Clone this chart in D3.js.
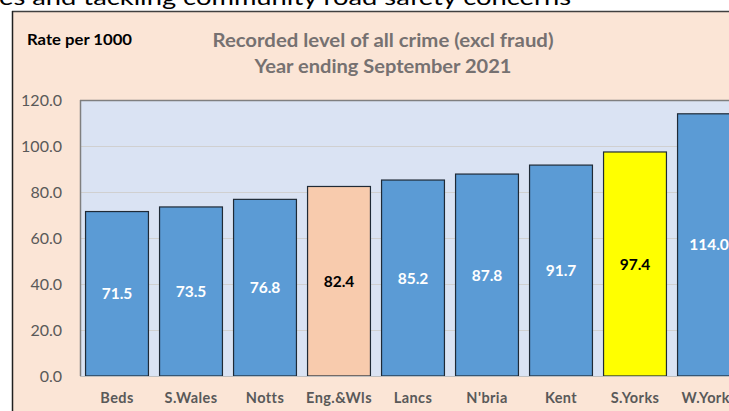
<!DOCTYPE html>
<html><head><meta charset="utf-8">
<script src="https://cdn.jsdelivr.net/npm/d3@7"></script>
<style>body{margin:0;background:#fff;}svg{display:block;}</style>
</head><body>
<svg id="c" width="729" height="411"></svg>
<script>
const categories = ["Beds","S.Wales","Notts","Eng.&Wls","Lancs","N'bria","Kent","S.Yorks","W.Yorks"];
const values = [71.5,73.5,76.8,82.4,85.2,87.8,91.7,97.4,114.0];
const yTicks = [0,20,40,60,80,100,120];
const titleLines = ["Recorded level of all crime (excl fraud)","Year ending September 2021"];
const unitLabel = "Rate per 1000";
const headerText = "es and tackling community road safety concerns";

(function(){
const font = "Lato, 'Open Sans', sans-serif";
const svg = d3.select("#c");

// header text (cut off)
svg.append("text").attr("x",-1).attr("y",5).attr("font-family",font)
  .attr("font-size",22).attr("fill","#000").attr("textLength",572).attr("lengthAdjust","spacingAndGlyphs").text(headerText);

// chart background
svg.append("rect").attr("x",12).attr("y",11).attr("width",729).attr("height",420).attr("fill","#FBE5D6");
svg.append("line").attr("x1",12).attr("x2",729).attr("y1",11.5).attr("y2",11.5).attr("stroke","#404040").attr("stroke-width",1.5);
svg.append("line").attr("x1",12.5).attr("x2",12.5).attr("y1",11).attr("y2",411).attr("stroke","#202020").attr("stroke-width",1.5);

const pLeft = 80, pTop = 100, pBottom = 376;
const x = d3.scaleBand().domain(categories).range([pLeft, pLeft + 74*categories.length]).paddingInner(0.15).paddingOuter(0.075);
const y = d3.scaleLinear().domain([0,120]).range([pBottom, pTop]);

// plot area
svg.append("rect").attr("x",pLeft).attr("y",pTop).attr("width",729-pLeft).attr("height",pBottom-pTop).attr("fill","#DAE3F3");

// grid
svg.append("g").selectAll("line").data(yTicks.filter(d=>d>0 && d<120)).join("line")
  .attr("x1",pLeft).attr("x2",729).attr("y1",d=>Math.round(y(d))+0.5).attr("y2",d=>Math.round(y(d))+0.5)
  .attr("stroke","#D0D0D0").attr("stroke-width",1);

// border of plot area
svg.append("line").attr("x1",pLeft).attr("x2",729).attr("y1",pTop+0.5).attr("y2",pTop+0.5).attr("stroke","#7F7F7F").attr("stroke-width",1.5);
svg.append("line").attr("x1",pLeft+0.5).attr("x2",pLeft+0.5).attr("y1",pTop).attr("y2",pBottom).attr("stroke","#7F7F7F").attr("stroke-width",1.5);

// bars
const fills = d => d==="Eng.&Wls" ? "#F8CBAD" : d==="S.Yorks" ? "#FFFF00" : "#5B9BD5";
svg.append("g").selectAll("rect").data(categories).join("rect")
  .attr("x",d=>x(d)).attr("width",x.bandwidth())
  .attr("y",(d,i)=>y(values[i])).attr("height",(d,i)=>y(0)-y(values[i]))
  .attr("fill",fills).attr("stroke","#1F2A36").attr("stroke-width",1.2);

// baseline
svg.append("line").attr("x1",pLeft).attr("x2",729).attr("y1",pBottom+0.5).attr("y2",pBottom+0.5).attr("stroke","#BFBFBF").attr("stroke-width",1);

// value labels
svg.append("g").selectAll("text").data(categories).join("text")
  .attr("x",d=>x(d)+x.bandwidth()/2)
  .attr("y",(d,i)=>(y(values[i])+y(0))/2)
  .attr("dy","0.36em").attr("text-anchor","middle")
  .attr("font-family",font).attr("font-weight","bold").attr("font-size",15.5)
  .attr("fill",d=>(d==="Eng.&Wls"||d==="S.Yorks")?"#000":"#fff")
  .text((d,i)=>values[i].toFixed(1));

// y axis labels
const yAxis = d3.axisLeft(y).tickValues(yTicks).tickFormat(d=>d.toFixed(1)).tickSize(0).tickPadding(0);
const ya = svg.append("g").attr("transform",`translate(62,0)`).call(yAxis);
ya.select(".domain").remove();
ya.selectAll("text").attr("font-family",font).attr("font-size",16).attr("fill","#595959").attr("dy","0.35em");

// x axis labels
const xAxis = d3.axisBottom(x).tickSize(0).tickPadding(0);
const xa = svg.append("g").attr("transform",`translate(0,${pBottom})`).call(xAxis);
xa.select(".domain").remove();
xa.selectAll("text").attr("font-family",font).attr("font-weight","bold").attr("font-size",14.5)
  .attr("letter-spacing","0.4px").attr("fill","#595959").attr("y",27).attr("dy","0");

// titles
const tl = [341, 257];
svg.append("g").selectAll("text").data(titleLines).join("text")
  .attr("x",383).attr("y",(d,i)=>47+i*26).attr("text-anchor","middle")
  .attr("font-family",font).attr("font-weight","bold").attr("font-size",19).attr("fill","#767171")
  .attr("textLength",(d,i)=>tl[i]).attr("lengthAdjust","spacingAndGlyphs").text(d=>d);

svg.append("text").attr("x",27).attr("y",45).attr("font-family",font)
  .attr("font-weight","bold").attr("font-size",15).attr("fill","#000")
  .attr("textLength",105).attr("lengthAdjust","spacingAndGlyphs").text(unitLabel);
})();
</script>
</body></html>
